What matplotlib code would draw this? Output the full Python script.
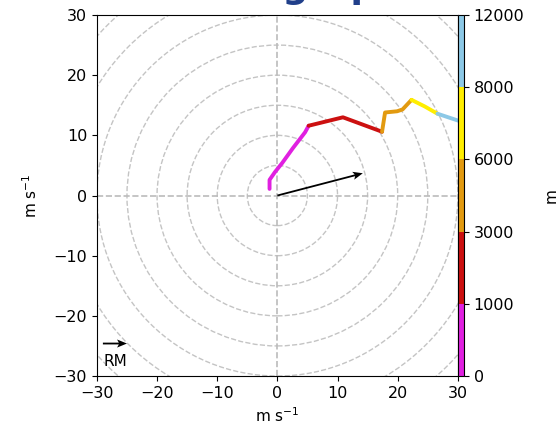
import numpy as np
import matplotlib.pyplot as plt
from matplotlib.colors import ListedColormap, BoundaryNorm
from matplotlib.cm import ScalarMappable
from matplotlib.patches import Circle

# wind profile (m/s) with height (m)
heights = np.array([0, 150, 300, 500, 750, 900, 1000, 2000, 3000, 3500, 4500, 5000, 6000, 7000, 8000, 10000])
u_wind = np.array([-1.3, -1.3, -0.4, 0.8, 2.6, 4.6, 5.2, 10.9, 17.4, 17.9, 19.9, 20.8, 22.3, 24.5, 26.6, 30.5])
v_wind = np.array([1.1, 2.6, 3.9, 5.4, 7.9, 10.5, 11.6, 13.0, 10.6, 13.8, 14.0, 14.3, 15.9, 14.8, 13.6, 12.3])

# storm motion (right mover)
storm_u = 14.2
storm_v = 3.7

bounds = [0, 1000, 3000, 6000, 8000, 12000]
layer_colors = ["#e020e0", "#cc1010", "#e29a10", "#ffee00", "#8cc8e6"]

fig = plt.figure(figsize=(5.6, 4.34), dpi=100)
ax = fig.add_axes([0.173, 0.1336, 0.6446, 0.8318])
cax = fig.add_axes([0.8175, 0.1336, 0.0107, 0.8318])

# hodograph grid
for r in range(5, 50, 5):
    ax.add_patch(Circle((0, 0), r, fill=False, color="#c4c4c4", linestyle="--", lw=1))
ax.axhline(0, color="#bbbbbb", linestyle="--", lw=1.2)
ax.axvline(0, color="#bbbbbb", linestyle="--", lw=1.2)

# colored trace by height layer
for (b0, b1), c in zip(zip(bounds[:-1], bounds[1:]), layer_colors):
    m = (heights >= b0) & (heights <= b1)
    ax.plot(u_wind[m], v_wind[m], color=c, lw=2.8, solid_capstyle="round")

q = ax.quiver(0, 0, storm_u, storm_v, angles="xy", scale_units="xy", scale=1,
              width=0.005, headwidth=4.5, headlength=5.5, color="black", zorder=5)
ax.quiverkey(q, 0.05, 0.09, 4, "RM", labelpos="S", coordinates="axes",
             fontproperties={"size": 11})

ax.set_xlim(-30, 30)
ax.set_ylim(-30, 30)
ax.set_xticks(range(-30, 31, 10))
ax.set_yticks(range(-30, 31, 10))
ax.tick_params(labelsize=11.5)
ax.set_xlabel("m s$^{-1}$", fontsize=11)
ax.set_ylabel("m s$^{-1}$", fontsize=11, labelpad=10)

cmap = ListedColormap(layer_colors)
norm = BoundaryNorm(bounds, cmap.N)
cb = fig.colorbar(ScalarMappable(norm=norm, cmap=cmap), cax=cax, ticks=bounds)
cb.ax.tick_params(labelsize=11.5)
cb.set_label("m", fontsize=11, labelpad=14)

# slide title, mostly cropped off the top edge
fig.text(0.35, 1.005, "Forecast Hodograph", fontsize=26, fontweight="bold",
         color="#203f8a", ha="center", va="baseline")

fig.savefig("out.png", dpi=100)
